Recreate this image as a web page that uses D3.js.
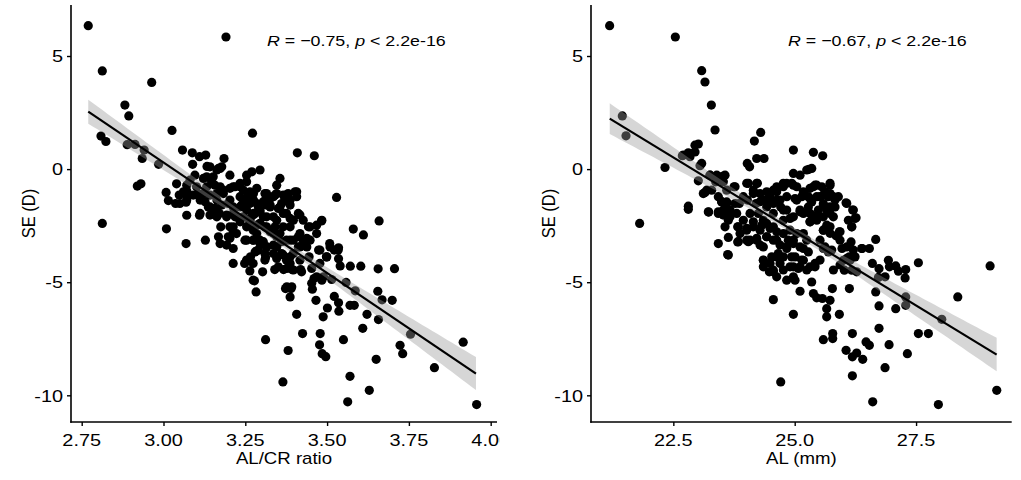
<!DOCTYPE html>
<html>
<head>
<meta charset="utf-8">
<script src="https://cdn.jsdelivr.net/npm/d3@7"></script>
<style>
html,body{margin:0;padding:0;background:#fff;}
text{font-family:"Liberation Sans",Arial,sans-serif;fill:#000;}
</style>
</head>
<body>
<svg id="chart" width="1021" height="480"></svg>
<script>
// ---------------- DATA ----------------
const yTicks = [5, 0, -5, -10];
const yTickLabels = ["5", "0", "-5", "-10"];

const leftXTicks = [2.75, 3.00, 3.25, 3.50, 3.75, 4.00];
const leftXTickLabels = ["2.75", "3.00", "3.25", "3.50", "3.75", "4.00"];
const rightXTicks = [22.5, 25.0, 27.5];
const rightXTickLabels = ["22.5", "25.0", "27.5"];

const leftTitle = "AL/CR ratio";
const rightTitle = "AL (mm)";
const yTitle = "SE (D)";
const leftStat = ["R", " = \u22120.75, ", "p", " < 2.2e-16"];
const rightStat = ["R", " = \u22120.67, ", "p", " < 2.2e-16"];

// fitted line endpoints and confidence half-widths [left end, centre, right end]
const leftFitX = [2.770, 3.955];
const leftFitY = [2.54, -9.04];
const leftBandCentre = 3.33;
const leftBandHalf = [0.53, 0.15, 0.73];
const rightFitX = [21.19, 29.16];
const rightFitY = [2.23, -8.20];
const rightBandCentre = 24.9;
const rightBandHalf = [0.68, 0.15, 0.74];

// AL/CR ratio vs SE
const leftPoints = [
[2.770,6.34],[3.191,5.84],[2.813,4.34],[2.964,3.83],[2.882,2.83],[2.894,2.35],[3.026,1.71],[3.272,1.59],
[2.809,1.46],[2.824,1.22],[2.889,1.08],[2.913,1.09],[2.941,0.84],[2.935,0.47],[2.985,0.21],[3.058,0.84],
[3.088,0.72],[3.409,0.72],[3.461,0.59],[2.920,-0.75],[2.931,-0.65],[2.813,-2.40],[3.009,-2.64],[3.069,-3.29],
[3.529,-1.25],[3.659,-2.29],[3.580,-2.65],[3.611,-2.91],[3.706,-4.40],[3.656,-4.41],[3.603,-4.29],[3.571,-4.29],
[3.540,-4.28],[3.535,-3.48],[3.558,-5.01],[3.586,-5.38],[3.655,-5.40],[3.668,-5.78],[3.699,-5.80],[3.570,-6.02],
[3.583,-6.02],[3.622,-6.42],[3.657,-6.65],[3.609,-7.04],[3.755,-7.30],[3.723,-7.79],[3.731,-8.16],[3.650,-8.41],
[3.916,-7.65],[3.828,-8.78],[3.570,-9.16],[3.629,-9.78],[3.563,-10.29],[3.957,-10.41],[3.365,-9.41],[3.381,-8.02],
[3.312,-7.54],[3.550,-7.54],[3.479,-7.27],[3.425,-7.27],[3.477,-7.77],[3.485,-8.16],[3.496,-8.29],[3.407,-6.42],
[3.466,-5.80],[3.488,-6.53],[3.501,-6.14],[3.522,-5.63],[3.535,-5.91],[3.536,-6.28],[3.387,-5.65],[3.373,-5.28],
[3.390,-5.28],[3.455,-5.31],[3.460,-4.84],[3.489,-4.76],[3.514,-4.88],[3.283,-5.43],[3.278,-4.94],[3.303,-4.54],
[3.264,-4.50],[3.213,-4.17],[3.248,-4.17],[3.266,-3.88],[3.285,-3.61],[3.312,-3.91],[3.340,-4.44],[3.367,-4.44],
[3.393,-4.44],[3.419,-4.44],[3.445,-3.88],[3.474,-3.58],[3.498,-3.88],[3.508,-3.29],[3.535,-3.96],[3.522,-3.58],
[3.008,-1.03],[3.015,-1.39],[3.037,-1.52],[3.040,-0.65],[3.048,-1.15],[3.069,-1.46],[3.071,-2.04],[3.071,-0.96],
[3.089,0.21],[3.091,-1.15],[3.110,-2.04],[3.110,0.55],[3.129,0.62],[3.133,0.12],[3.128,-3.14],[3.132,-0.34],
[3.152,-0.34],[3.163,-0.04],[3.173,0.03],[3.185,0.47],[3.171,-1.96],[3.175,-2.55],[3.173,-3.29],[3.198,-2.99],
[3.203,-0.27],[3.213,-0.78],[3.213,-2.55],[3.254,-0.27],[3.270,-0.12],[3.295,-0.04],[3.254,-2.55],[3.275,-1.96],
[3.285,-2.85],[3.315,-1.22],[3.326,-1.67],[3.346,-1.08],[3.356,-0.41],[3.371,-1.37],[3.387,-1.59],[3.407,-1.00],
[3.412,-1.96],[3.417,-2.85],[3.427,-3.14],[3.438,-3.44],[3.483,-2.29],[3.397,-3.14],[3.361,-3.73],[3.376,-4.03],
[3.346,-3.44],[3.315,-3.44],[3.336,-2.85],[3.295,-2.40],[3.234,-1.67],[3.203,-1.37],[3.163,-1.37],[3.142,-1.67],
[3.122,-1.08],[3.157,-0.71],[3.213,-1.67],[3.254,-1.37],[3.275,-1.08],[3.234,-0.78],[3.213,-1.96],[3.193,-2.11],
[3.244,-2.11],[3.264,-2.26],[3.295,-1.81],[3.305,-2.11],[3.336,-2.11],[3.356,-1.67],[3.376,-1.96],[3.397,-2.26],
[3.427,-2.26],[3.448,-2.55],[3.468,-2.85],[3.387,-2.55],[3.417,-3.44],[3.448,-3.14],[3.397,-3.73],[3.336,-3.73],
[3.295,-3.14],[3.275,-3.14],[3.387,-4.17],[3.417,-4.03],[3.152,-1.96],[3.112,-1.37],[3.101,-0.78],[3.081,-0.49],
[3.071,-1.37],[3.050,-1.52],[3.234,-1.22],[3.183,-1.08],[3.223,-2.85],[3.275,-1.37],[3.366,-2.55],[3.346,-2.26],
[3.315,-2.55],[3.376,-3.14],[3.356,-2.85],[3.132,-0.78],[3.173,-0.78],[3.244,-1.52],[3.285,-1.52],
[3.142,0.10],[3.168,0.03],[3.178,0.10],[3.346,-0.71],[3.096,-0.27],[3.122,-0.41],[3.147,-0.56],[3.071,-0.71],
[3.061,-1.00],[3.071,-1.22],[3.106,-1.08],[3.127,-1.44],[3.137,-1.67],[3.157,-1.74],[3.178,-1.59],[3.198,-1.52],
[3.142,-1.15],[3.163,-1.08],[3.183,-0.93],[3.203,-0.85],[3.219,-0.78],[3.234,-0.63],[3.254,-0.56],[3.244,-0.93],
[3.264,-1.00],[3.285,-0.85],[3.310,-1.08],[3.326,-1.30],[3.341,-1.15],[3.112,-1.96],[3.142,-2.03],[3.163,-2.11],
[3.193,-2.03],[3.219,-2.11],[3.234,-2.33],[3.203,-2.55],[3.264,-2.33],[3.285,-2.48],[3.310,-2.55],[3.326,-2.77],
[3.346,-2.99],[3.341,-2.55],[3.315,-1.59],[3.295,-1.89],[3.274,-2.03],[3.254,-1.81],[3.264,-1.52],[3.168,-2.99],
[3.203,-3.06],[3.213,-2.77],[3.193,-3.36],[3.213,-3.51],[3.254,-3.14],[3.274,-3.14],[3.295,-3.29],[3.315,-3.44],
[3.336,-3.36],[3.290,-3.58],[3.310,-3.73],[3.259,-1.15],[3.249,-1.37],[3.239,-1.59],[3.315,-1.08],[3.336,-1.22],
[3.366,-1.15],[3.381,-1.08],[3.402,-1.00],[3.407,-1.22],[3.387,-1.37],[3.361,-1.52],[3.351,-1.74],[3.326,-1.59],
[3.305,-1.44],[3.290,-1.67],[3.280,-1.96],[3.264,-2.18],[3.274,-2.70],[3.295,-2.40],[3.315,-2.11],[3.366,-1.96],
[3.387,-2.18],[3.417,-2.03],[3.443,-2.55],[3.468,-2.48],[3.484,-2.26],[3.249,-3.14],[3.305,-3.21],[3.361,-3.21],
[3.387,-3.14],[3.412,-2.99],[3.438,-3.06],[3.427,-3.36],[3.412,-3.44],[3.280,-3.66],[3.254,-4.02],[3.274,-4.17],
[3.310,-4.02],[3.346,-3.95],[3.366,-3.80],[3.387,-3.88],[3.351,-4.32],[3.377,-4.39],[3.397,-4.46],[3.422,-4.54],
[3.453,-4.39],[3.478,-4.17],[3.499,-3.88],[3.509,-3.44],[3.534,-3.58],[3.478,-3.58],[3.468,-4.76],[3.453,-5.05],
[3.484,-4.91],[3.274,-4.91],[3.377,-5.20],[3.392,-5.20]
];

// AL (mm) vs SE
const rightPoints = [
[21.188,6.34],[22.541,5.84],[23.084,4.35],[23.152,3.85],[23.283,2.83],[23.359,1.73],[21.449,2.35],[21.525,1.47],
[21.806,-2.40],[22.328,0.07],[22.685,0.59],[22.809,0.72],[22.843,0.55],[22.946,1.06],[23.015,1.11],[23.049,0.15],
[23.084,0.25],[23.015,-0.52],[22.809,-1.64],[22.809,-1.78],[23.228,-1.90],[23.152,-1.03],[23.427,-3.29],[23.619,-3.78],
[23.565,-2.55],[23.633,-3.02],[23.826,-2.55],[23.826,-3.22],[24.169,1.24],[24.299,1.62],[24.217,0.47],[24.368,0.47],
[24.023,0.25],[24.071,0.10],[24.973,0.84],[25.385,0.74],[25.577,0.59],[24.973,-0.19],[25.110,-0.27],[25.295,-0.01],
[24.560,-5.77],[24.973,-6.42],[24.712,-9.41],[25.110,-5.40],[25.350,-4.99],[25.385,-5.50],[25.453,-5.69],[25.570,-5.72],
[25.728,-5.80],[25.776,-5.28],[25.659,-6.17],[25.659,-6.53],[25.590,-7.54],[25.783,-7.27],[25.783,-7.49],[25.920,-6.42],
[26.058,-8.01],[26.126,-5.28],[26.188,-7.27],[26.188,-8.30],[26.188,-9.14],[26.277,-8.13],[26.401,-8.41],[26.470,-7.64],
[26.538,-7.79],[26.607,-10.29],[26.669,-5.43],[26.669,-3.11],[26.538,-3.51],[26.387,-3.51],[26.737,-6.05],[26.737,-7.04],
[26.861,-8.78],[26.944,-7.76],[26.600,-4.17],[26.737,-4.40],[26.724,-4.79],[26.861,-4.76],[26.930,-4.03],[26.951,-4.32],
[27.081,-4.28],[27.136,-4.51],[27.287,-4.44],[27.274,-4.81],[27.081,-6.17],[27.287,-5.65],[27.287,-6.02],[27.321,-8.16],
[27.548,-4.14],[27.548,-7.27],[27.754,-7.27],[28.029,-6.64],[27.960,-10.41],[28.359,-5.65],[29.025,-4.28],[29.162,-9.78],
[26.277,-4.54],[26.058,-1.49],[26.195,-1.81],[26.264,-2.15],[26.175,-2.55],[26.106,-2.26],[26.161,-3.22],[26.140,-4.03],
[26.003,-4.03],[25.920,-2.77],[25.975,-3.51],[26.126,-3.88],[26.023,-4.47],[26.175,-4.47],
[23.255,-0.27],[23.372,-0.56],[23.530,-0.31],[23.530,-0.56],[23.599,-0.93],[23.290,-0.93],[23.427,-1.22],[23.496,-1.45],
[23.599,-1.45],[23.530,-1.81],[23.668,-1.81],[23.633,-2.26],[23.427,-1.96],[23.750,-0.78],[23.860,-1.52],[23.942,-1.22],
[24.045,-0.63],[24.025,-1.37],[24.148,-1.08],[24.231,-0.63],[24.203,-1.52],[24.251,-1.96],[24.354,-1.37],[24.492,-1.22],
[24.629,-1.00],[24.766,-0.78],[24.835,-0.63],[24.973,-0.71],[25.041,-1.37],[25.110,-1.81],[24.973,-2.11],[24.835,-1.81],
[24.712,-1.67],[24.629,-1.37],[25.179,-1.08],[25.282,-1.22],[25.350,-1.45],[25.385,-0.78],[25.453,-0.71],[25.522,-1.22],
[25.590,-1.52],[25.728,-0.63],[25.693,-1.22],[25.796,-1.22],[25.625,-1.00],[25.316,-1.96],[25.453,-2.11],[25.590,-2.11],
[25.316,-2.33],[25.179,-1.96],[25.728,-2.55],[25.590,-2.70],[25.625,-3.44],[25.693,-3.66],[25.522,-3.14],[25.419,-4.17],
[25.316,-4.32],[25.179,-4.03],[25.110,-4.32],[24.973,-4.32],[24.973,-4.76],[25.007,-4.91],[24.835,-4.91],[24.938,-3.88],
[24.766,-3.88],[24.835,-3.44],[24.973,-3.14],[25.110,-3.44],[25.247,-3.14],[25.179,-2.85],[24.904,-2.70],[24.766,-2.85],
[24.629,-3.14],[24.560,-2.55],[24.423,-2.40],[24.423,-2.99],[24.354,-3.44],[24.286,-2.70],[24.217,-3.14],[24.080,-3.14],
[24.011,-2.70],[24.148,-2.33],[24.354,-4.03],[24.492,-4.17],[24.629,-3.88],[24.560,-4.47],[24.478,-4.54],[24.629,-4.76],
[24.698,-4.17],[23.874,-2.85],[23.942,-2.26],[23.805,-1.96],[24.080,-1.96],[24.354,-2.26],[24.560,-1.96],[24.423,-1.67],
[24.766,-2.26],[25.041,-2.85],[25.831,-1.37],[25.899,-1.22],[25.831,-1.67],[25.659,-1.81],[25.728,-1.96],[25.796,-2.11],
[25.852,-2.95],
[22.706,0.62],[22.844,0.69],[22.947,0.76],[23.256,-0.27],[23.394,-0.27],[23.497,-0.34],[23.565,-0.27],[23.188,-0.93],
[23.118,-1.08],[23.221,-1.89],[23.427,-1.89],[23.530,-2.03],[23.668,-2.11],[23.600,-1.52],[23.497,-1.44],[23.771,-1.52],
[23.771,-0.78],[24.012,-0.63],[23.839,-2.55],[23.839,-3.21],[23.633,-3.80],[24.012,-3.14],
[25.248,-0.04],[25.351,0.03],[24.218,-0.63],[24.148,-0.93],[24.286,-1.08],[24.424,-1.00],[24.560,-0.93],[24.630,-0.78],
[24.766,-0.63],[24.939,-0.63],[25.042,-0.78],[25.178,-1.00],[25.316,-0.85],[25.419,-0.71],[25.557,-0.78],[25.728,-0.71],
[24.286,-1.44],[24.424,-1.37],[24.560,-1.52],[24.698,-1.37],[24.836,-1.22],[25.007,-1.30],[25.145,-1.22],[25.316,-1.30],
[25.454,-1.22],[25.591,-1.15],[25.728,-1.08],[25.831,-1.30],[24.766,-1.81],[24.904,-2.18],[25.110,-1.89],[25.281,-1.67],
[25.351,-2.03],[25.488,-1.81],[25.591,-1.59],[25.728,-1.67],[25.316,-2.33],[25.454,-2.26],[25.660,-2.48],[25.591,-2.70],
[25.728,-2.84],[25.934,-2.77],[26.072,-1.52],[26.208,-1.81],[26.243,-2.18],[26.175,-2.55],[24.012,-2.62],[24.148,-2.55],
[24.321,-2.48],[24.492,-2.62],[24.630,-2.77],[24.424,-2.99],[24.218,-3.06],[24.045,-3.21],[24.286,-3.36],[24.560,-3.14],
[24.698,-3.36],[24.869,-3.14],[24.972,-3.29],[24.836,-3.51],[24.663,-3.73],[24.527,-3.88],[24.354,-4.02],[25.007,-3.88],
[25.145,-4.02],[25.281,-3.66],[25.178,-3.51],[25.591,-3.51],[25.763,-3.58],[25.934,-3.14],[26.072,-3.44],[26.208,-3.58],
[26.381,-3.51],[26.243,-3.88],[26.072,-3.95],[25.934,-4.24],[25.797,-4.46],[25.522,-4.02],[25.419,-4.32],[25.248,-4.46],
[25.075,-4.39],[24.904,-4.32],[24.766,-4.46],[24.560,-4.54],[24.354,-4.32]
];

// ---------------- DRAWING ----------------
const svg = d3.select("#chart");
svg.append("rect").attr("width", 1021).attr("height", 480).attr("fill", "#fff");

const STRETCH = 1.15;
const plotTop = 5, plotBottom = 422;

const yScale = d3.scaleLinear().domain([-11.18, 7.255]).range([plotBottom, plotTop]);

function stretchedText(g, x, yy, anchor, size, parts, rotate) {
  const t = g.append("text")
    .attr("transform", rotate
      ? `translate(${x},${yy}) rotate(-90) scale(1,${STRETCH})`
      : `translate(${x},${yy}) scale(${STRETCH},1)`)
    .attr("text-anchor", anchor)
    .style("font-size", size + "px");
  if (Array.isArray(parts)) {
    parts.forEach((p, i) => {
      t.append("tspan").text(p).style("font-style", (i % 2 === 0) ? "italic" : "normal");
    });
  } else {
    t.text(parts);
  }
  return t;
}

function panel(cfg) {
  const g = svg.append("g");
  if (cfg.clip) {
    svg.append("clipPath").attr("id", cfg.id + "clip")
      .append("rect").attr("x", 0).attr("y", 0).attr("width", cfg.clip).attr("height", 480);
    g.attr("clip-path", `url(#${cfg.id}clip)`);
  }
  const x = d3.scaleLinear().domain(cfg.xDomain).range([cfg.left, cfg.right]);
  const y = yScale;

  // points
  g.append("g").selectAll("circle").data(cfg.points).join("circle")
    .attr("cx", d => x(d[0])).attr("cy", d => y(d[1])).attr("r", 4.6)
    .attr("fill", "#000");

  // confidence band + fit line
  const slope = (cfg.fitY[1] - cfg.fitY[0]) / (cfg.fitX[1] - cfg.fitX[0]);
  const fit = v => cfg.fitY[0] + slope * (v - cfg.fitX[0]);
  const c = cfg.bandCentre, h = cfg.bandHalf;
  const bL = (h[0] * h[0] - h[1] * h[1]) / Math.pow(cfg.fitX[0] - c, 2);
  const bR = (h[2] * h[2] - h[1] * h[1]) / Math.pow(cfg.fitX[1] - c, 2);
  const hw = v => Math.sqrt(h[1] * h[1] + (v < c ? bL : bR) * (v - c) * (v - c));
  const xs = d3.range(0, 81).map(i => cfg.fitX[0] + (cfg.fitX[1] - cfg.fitX[0]) * i / 80);
  g.append("path")
    .datum(xs)
    .attr("d", d3.area().x(v => x(v)).y0(v => y(fit(v) - hw(v))).y1(v => y(fit(v) + hw(v))))
    .attr("fill", "#999999").attr("fill-opacity", 0.4);
  g.append("path")
    .datum(cfg.fitX)
    .attr("d", d3.line().x(v => x(v)).y(v => y(fit(v))))
    .attr("stroke", "#000").attr("stroke-width", 2.2).attr("fill", "none");

  // axes
  const ax = g.append("g").attr("transform", `translate(0,${plotBottom})`)
    .call(d3.axisBottom(x).tickValues(cfg.xTicks).tickSize(4).tickSizeOuter(0).tickFormat(""));
  const ay = g.append("g").attr("transform", `translate(${cfg.left},0)`)
    .call(d3.axisLeft(y).tickValues(yTicks).tickSize(4).tickSizeOuter(0).tickFormat(""));
  [ax, ay].forEach(a => {
    a.select(".domain").attr("stroke", "#000").attr("stroke-width", 1.6);
    a.selectAll(".tick line").attr("stroke", "#000").attr("stroke-width", 1.4);
  });
  ax.select(".domain").attr("d", `M${cfg.left - 0.8},0H${cfg.right}`);
  ay.select(".domain").attr("d", `M0,${plotBottom + 0.8}V${plotTop}`);

  // tick labels
  cfg.xTicks.forEach((t, i) => stretchedText(g, x(t), 446, "middle", 17.3, cfg.xTickLabels[i]));
  yTicks.forEach((t, i) => stretchedText(g, cfg.left - 8, y(t) + 6.2, "end", 17.3, yTickLabels[i]));

  // titles
  stretchedText(g, (cfg.left + cfg.right) / 2, 464, "middle", 16.2, cfg.title);
  stretchedText(g, cfg.left - 36, (plotTop + plotBottom) / 2, "middle", 16.5, yTitle, true);

  // stat annotation
  stretchedText(g, cfg.statX, 46, "start", 15.5, cfg.stat);
}

panel({
  id: "L", left: 71, right: 497, xDomain: [2.7173, 4.0193], clip: 499.5,
  points: leftPoints, xTicks: leftXTicks, xTickLabels: leftXTickLabels, title: leftTitle,
  fitX: leftFitX, fitY: leftFitY, bandCentre: leftBandCentre, bandHalf: leftBandHalf,
  stat: leftStat, statX: 267
});
panel({
  id: "R", left: 591, right: 1011.7, xDomain: [20.804, 29.47],
  points: rightPoints, xTicks: rightXTicks, xTickLabels: rightXTickLabels, title: rightTitle,
  fitX: rightFitX, fitY: rightFitY, bandCentre: rightBandCentre, bandHalf: rightBandHalf,
  stat: rightStat, statX: 788
});
</script>
</body>
</html>
